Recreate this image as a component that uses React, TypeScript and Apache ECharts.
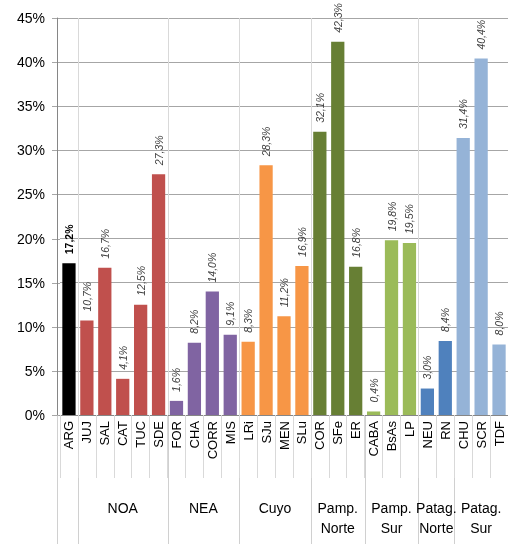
import React, { useEffect, useRef } from "react";
import * as echarts from "echarts";

const categories = ["ARG", "JUJ", "SAL", "CAT", "TUC", "SDE", "FOR", "CHA", "CORR", "MIS", "LRi", "SJu", "MEN", "SLu", "COR", "SFe", "ER", "CABA", "BsAs", "LP", "NEU", "RN", "CHU", "SCR", "TDF"];
const values = [17.2, 10.7, 16.7, 4.1, 12.5, 27.3, 1.6, 8.2, 14.0, 9.1, 8.3, 28.3, 11.2, 16.9, 32.1, 42.3, 16.8, 0.4, 19.8, 19.5, 3.0, 8.4, 31.4, 40.4, 8.0];
const groupLabels = ["", "NOA", "NEA", "Cuyo", "Pamp.\nNorte", "Pamp.\nSur", "Patag.\nNorte", "Patag.\nSur"];
const groupSizes = [1, 5, 4, 4, 3, 3, 2, 3];
const groupColors = ["#000000", "#c0504d", "#8064a2", "#f79646", "#677f34", "#9bbb59", "#4f81bd", "#95b3d7"];
const plotDividerGroups = [1, 2, 3, 4, 6];
const yTicks = [0, 5, 10, 15, 20, 25, 30, 35, 40, 45];

const FONT = "'Liberation Sans', Arial, sans-serif";

export default function App() {
  const ref = useRef<HTMLDivElement>(null);
  useEffect(() => {
    if (!ref.current) return;
    const chart = echarts.init(ref.current, null, { renderer: "svg" });
    const colorOf: string[] = [];
    const groupStarts: number[] = [];
    let idx = 0;
    groupSizes.forEach((n, g) => {
      groupStarts.push(idx);
      for (let k = 0; k < n; k++) colorOf.push(groupColors[g]);
      idx += n;
    });
    const data = values.map((v, i) => ({
      value: v,
      itemStyle: { color: colorOf[i] },
      label: i === 0 ? { fontWeight: "bold", fontStyle: "normal", color: "#000" } : undefined,
    }));
    chart.setOption({
      animation: false,
      grid: { left: 60, top: 18, width: 452.5, height: 397 },
      xAxis: {
        type: "category",
        data: categories,
        axisLine: { show: true, lineStyle: { color: "#868686" } },
        axisTick: { show: true, length: 63, interval: 0, lineStyle: { color: "#d9d9d9" } },
        axisLabel: { rotate: 90, interval: 0, margin: 6, fontSize: 13, color: "#000", fontFamily: FONT },
        splitLine: { show: false },
      },
      yAxis: {
        type: "value",
        min: yTicks[0],
        max: yTicks[yTicks.length - 1],
        interval: 5,
        offset: 3,
        axisLine: { show: true, lineStyle: { color: "#868686" } },
        axisTick: { show: false },
        axisLabel: { formatter: "{value}%", fontSize: 14, color: "#000", fontFamily: FONT, margin: 12 },
        splitLine: { show: true, lineStyle: { color: "#a6a6a6" } },
      },
      series: [
        {
          type: "bar",
          data,
          barCategoryGap: "26%",
          label: {
            show: true,
            position: "top",
            rotate: 90,
            align: "left",
            verticalAlign: "middle",
            distance: 9,
            fontSize: 10.5,
            fontStyle: "italic",
            color: "#404040",
            fontFamily: FONT,
            formatter: (p: any) => p.value.toFixed(1).replace(".", ",") + "%",
          },
        },
      ],
    });
    const c0 = chart.convertToPixel({ xAxisIndex: 0 }, 0) as number;
    const c1 = chart.convertToPixel({ xAxisIndex: 0 }, 1) as number;
    const w = c1 - c0;
    const yTop = chart.convertToPixel({ yAxisIndex: 0 }, yTicks[yTicks.length - 1]) as number;
    const yBot = chart.convertToPixel({ yAxisIndex: 0 }, 0) as number;
    const bx = (i: number) => Math.round(c0 - w / 2 + i * w) + 0.5;
    const gridLeft = c0 - w / 2;
    const graphics: any[] = [];
    yTicks.forEach((t) => {
      const y = Math.round(chart.convertToPixel({ yAxisIndex: 0 }, t) as number) + 0.5;
      graphics.push({ type: "line", z: 0, shape: { x1: gridLeft - 8, y1: y, x2: gridLeft, y2: y }, style: { stroke: "#a6a6a6", lineWidth: 1 } });
    });
    plotDividerGroups.forEach((g) => {
      const x = bx(groupStarts[g]);
      graphics.push({ type: "line", z: 0, shape: { x1: x, y1: yTop, x2: x, y2: yBot }, style: { stroke: "#d9d9d9", lineWidth: 1 } });
    });
    groupStarts.forEach((s) => {
      const x = s === 0 ? Math.round(gridLeft - 3) + 0.5 : bx(s);
      graphics.push({ type: "line", z: 0, shape: { x1: x, y1: yBot, x2: x, y2: 544 }, style: { stroke: "#d0d0d0", lineWidth: 1 } });
    });
    groupLabels.forEach((lab, g) => {
      if (!lab) return;
      const cx = c0 - w / 2 + (groupStarts[g] + groupSizes[g] / 2) * w;
      graphics.push({
        type: "text",
        x: cx,
        y: 498,
        style: { text: lab, fontSize: 14, fontFamily: FONT, fill: "#000", align: "center", verticalAlign: "top", lineHeight: 20 },
      });
    });
    chart.setOption({ graphic: graphics });
    return () => chart.dispose();
  }, []);
  return <div ref={ref} style={{ position: "fixed", left: 0, top: 0, width: 508, height: 544 }} />;
}
